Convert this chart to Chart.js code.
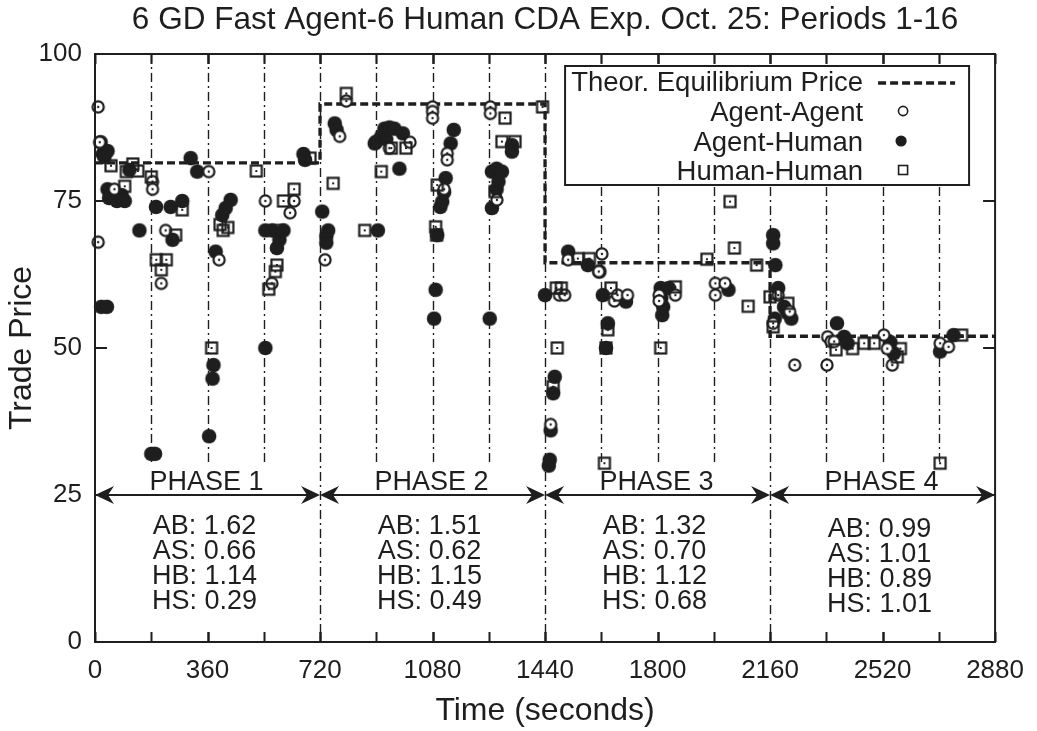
<!DOCTYPE html>
<html>
<head>
<meta charset="utf-8">
<title>CDA trade prices</title>
<script src="https://cdn.jsdelivr.net/npm/chart.js@4.4.1/dist/chart.umd.min.js"></script>
<style>
    html, body { margin: 0; padding: 0; background: #fff; }
    #wrap { width: 1037px; height: 731px; }
</style>
</head>
<body>
<div id="wrap"><canvas id="priceChart" width="1037" height="731"></canvas></div>
<script>
// trade prices, [time (s), price]
const agentAgent = [
    [10, 91], [15, 85], [10, 68], [62, 77], [184, 78.3], [184, 77], [212, 61], [226, 70], [364, 80], [397, 65],
    [545, 75], [566, 61], [624, 73], [637, 75],
    [736, 65], [783, 86], [804, 92], [942, 84], [1008, 85], [1080, 91], [1080, 90.2], [1080, 89.1], [1127, 83.1],
    [1127, 82], [1117, 77], [1265, 91], [1265, 89.9], [1286, 75.2],
    [1458, 37], [1486, 59], [1503, 59], [1514, 65], [1622, 66], [1612, 63], [1662, 58], [1672, 59], [1704, 59],
    [1805, 59], [1805, 58], [1857, 59], [1985, 61], [2016, 61], [1985, 59],
    [2170, 54.2], [2186, 59], [2223, 56.2], [2239, 47.1], [2342, 47.1], [2344, 51.9], [2355, 51.1], [2365, 51.1],
    [2524, 52.2], [2535, 49.9], [2551, 47.1], [2704, 50.8], [2731, 50.2],
];

const agentHuman = [
    [18, 85], [25, 83], [40, 83.5], [30, 82.5], [110, 80.3], [40, 77], [45, 75.5], [70, 75], [85, 76], [95, 75],
    [142, 70], [195, 74], [242, 74], [279, 75], [248, 68.4], [306, 82.3], [327, 80], [407, 72.6], [418, 73.8],
    [434, 75.2], [386, 66.4], [365, 35], [376, 44.8], [379, 47.1], [20, 57], [38, 57], [180, 32], [192, 32],
    [545, 50], [545, 70], [566, 70], [603, 70], [590, 68.4], [582, 67], [667, 83], [672, 82],
    [727, 73.2], [740, 69], [740, 67.9], [746, 70], [767, 88.2], [773, 87.1], [895, 84.8], [900, 85.1], [905, 70],
    [916, 86], [926, 87.3], [932, 85.5], [942, 87.5], [958, 87.3], [974, 80.5], [985, 86.5], [1085, 55], [1090, 59.9],
    [1095, 69.2], [1105, 74], [1111, 74.9], [1117, 76.5], [1122, 78.9], [1138, 84.8], [1148, 87.1], [1263, 55],
    [1270, 73.8], [1270, 80], [1285, 80.5], [1285, 77], [1291, 78.3], [1302, 80], [1334, 84.5], [1334, 83.4],
    [1440, 59], [1452, 30], [1455, 31], [1458, 36], [1466, 42.3], [1471, 45.1], [1514, 66.4], [1577, 64.1],
    [1614, 63], [1625, 59], [1635, 50], [1641, 54.2], [1699, 57.9], [1810, 60.2], [1812, 58.5], [1815, 55.6],
    [1818, 57], [1836, 60.2], [2027, 59.9],
    [2170, 69.2], [2170, 67.8], [2177, 64.1], [2175, 55], [2186, 60.2], [2205, 57], [2215, 56], [2228, 55],
    [2374, 54.2], [2397, 51.9], [2408, 50.8], [2545, 51], [2556, 49.1], [2704, 49.4], [2747, 52.2],
];

const humanHuman = [
    [51, 81], [100, 80], [121, 81.3], [137, 80.1], [180, 79.1], [95, 77.5], [196, 65], [228, 65], [212, 63.3],
    [258, 69.2], [279, 73.5], [373, 50], [400, 71], [410, 70], [425, 70.5], [516, 80.1], [556, 60], [577, 63],
    [582, 64.1], [587, 70], [603, 75], [637, 77], [688, 82.3],
    [762, 78], [804, 93.3], [863, 70], [916, 80], [948, 84], [995, 84], [1090, 70.6], [1093, 69.2], [1095, 77.7],
    [1280, 76.6], [1302, 85.1], [1312, 89.1], [1344, 85.1], [1432, 91],
    [1466, 43.4], [1476, 60.2], [1479, 50], [1492, 60.2], [1545, 65.2], [1582, 65.2], [1630, 30.4], [1635, 50],
    [1641, 53.1], [1651, 60.2], [1810, 50], [1857, 60.4], [1958, 65.1], [2032, 74.9], [2046, 67], [2090, 57.1],
    [2117, 64.1],
    [2160, 58.7], [2170, 53.6], [2178, 59.3], [2217, 57.6], [2371, 49.7], [2424, 49.9], [2461, 50.8], [2493, 50.8],
    [2567, 48.5], [2577, 49.9], [2704, 30.4], [2773, 52.2],
];

const eqTimes = [0, 720, 1440, 2160, 2880];
const eqPrices = [81.5, 91.5, 64.5, 52, 52];

const xLabelTicks = [0, 360, 720, 1080, 1440, 1800, 2160, 2520, 2880];
const periodBounds = [180, 360, 540, 720, 900, 1080, 1260, 1440, 1620, 1800, 1980, 2160, 2340, 2520, 2700];
const phaseBounds = [0, 720, 1440, 2160, 2880];
const periodLineFloor = 30;
const arrowLevel = 25;

const phaseNames = ['PHASE 1', 'PHASE 2', 'PHASE 3', 'PHASE 4'];
const phaseStats = [
    ['AB: 1.62', 'AS: 0.66', 'HB: 1.14', 'HS: 0.29'],
    ['AB: 1.51', 'AS: 0.62', 'HB: 1.15', 'HS: 0.49'],
    ['AB: 1.32', 'AS: 0.70', 'HB: 1.12', 'HS: 0.68'],
    ['AB: 0.99', 'AS: 1.01', 'HB: 0.89', 'HS: 1.01'],
];

const TITLE = '6 GD Fast Agent-6 Human CDA Exp. Oct. 25: Periods 1-16';
const INK = '#1e1e1e';
const FONT = "'Liberation Sans', Arial, Helvetica, sans-serif";

Chart.defaults.font.family = FONT;
Chart.defaults.color = INK;

function markerCanvas(kind) {
    const c = document.createElement('canvas');
    c.width = 18;
    c.height = 18;
    const g = c.getContext('2d');
    g.strokeStyle = INK;
    g.fillStyle = INK;
    g.lineWidth = 2.2;
    if (kind === 'open') {
        g.beginPath();
        g.arc(9, 9, 5.6, 0, Math.PI * 2);
        g.fillStyle = '#fff';
        g.fill();
        g.stroke();
        g.fillStyle = INK;
        g.beginPath();
        g.arc(9, 9, 1.2, 0, Math.PI * 2);
        g.fill();
    } else if (kind === 'filled') {
        g.beginPath();
        g.arc(9, 9, 7.3, 0, Math.PI * 2);
        g.fill();
    } else {
        g.strokeRect(3.5, 3.5, 11, 11);
        g.fillRect(8, 8, 2, 2);
    }
    return c;
}

const toPoints = (pairs) => pairs.map(([x, y]) => ({ x, y }));

function arrowHead(ctx, tipX, y, dir) {
    ctx.beginPath();
    ctx.moveTo(tipX, y);
    ctx.lineTo(tipX - dir * 19, y - 9);
    ctx.lineTo(tipX - dir * 13, y);
    ctx.lineTo(tipX - dir * 19, y + 9);
    ctx.closePath();
    ctx.fill();
}

const decorPlugin = {
    id: 'decor',
    beforeDatasetsDraw(chart) {
        const { ctx, scales: { x, y } } = chart;
        ctx.save();
        ctx.strokeStyle = INK;
        ctx.lineWidth = 1.4;
        ctx.setLineDash([9, 4, 2, 4]);
        periodBounds.forEach((t) => {
            const px = Math.round(x.getPixelForValue(t)) + 0.5;
            const floor = phaseBounds.includes(t) ? 0 : periodLineFloor;
            ctx.beginPath();
            ctx.moveTo(px, y.getPixelForValue(100));
            ctx.lineTo(px, y.getPixelForValue(floor));
            ctx.stroke();
        });
        ctx.restore();
    },
    afterDatasetsDraw(chart) {
        const { ctx, scales: { x, y } } = chart;
        const ay = y.getPixelForValue(arrowLevel);
        ctx.save();
        ctx.fillStyle = INK;
        ctx.strokeStyle = INK;
        ctx.lineWidth = 2;
        ctx.font = `27px ${FONT}`;
        ctx.textAlign = 'center';
        ctx.textBaseline = 'alphabetic';
        phaseNames.forEach((name, i) => {
            const x0 = x.getPixelForValue(phaseBounds[i]);
            const x1 = x.getPixelForValue(phaseBounds[i + 1]);
            ctx.beginPath();
            ctx.moveTo(x0 + 10, ay);
            ctx.lineTo(x1 - 10, ay);
            ctx.stroke();
            arrowHead(ctx, x0, ay, -1);
            arrowHead(ctx, x1, ay, 1);
            const cx = (x0 + x1) / 2;
            ctx.fillText(name, cx - 1, ay - 5);
            const drop = i === 3 ? 42 : 39;
            phaseStats[i].forEach((line, k) => {
                ctx.fillText(line, cx - 3, ay + drop + k * 25);
            });
        });
        ctx.restore();
    },
    afterDraw(chart) {
        const { ctx, chartArea: a, scales: { x, y } } = chart;
        ctx.save();
        ctx.strokeStyle = INK;
        ctx.fillStyle = INK;
        ctx.lineWidth = 2;
        ctx.setLineDash([]);

        // title, centred over the plot frame
        ctx.font = `31.5px ${FONT}`;
        ctx.textAlign = 'center';
        ctx.textBaseline = 'middle';
        ctx.fillText(TITLE, (a.left + a.right) / 2, 20);

        // inward ticks, mirrored
        [...xLabelTicks, ...periodBounds].forEach((t) => {
            const px = Math.round(x.getPixelForValue(t)) + 0.5;
            ctx.beginPath();
            ctx.moveTo(px, a.bottom);
            ctx.lineTo(px, a.bottom - 10);
            ctx.moveTo(px, a.top);
            ctx.lineTo(px, a.top + 10);
            ctx.stroke();
        });
        y.ticks.forEach((tk) => {
            const py = Math.round(y.getPixelForValue(tk.value));
            ctx.beginPath();
            ctx.moveTo(a.left, py);
            ctx.lineTo(a.left + 12, py);
            ctx.moveTo(a.right, py);
            ctx.lineTo(a.right - 12, py);
            ctx.stroke();
        });
        ctx.strokeRect(a.left, a.top, a.right - a.left, a.bottom - a.top);

        // key box
        const box = { left: a.right - 430, right: a.right - 26, top: a.top + 12, bottom: a.top + 131 };
        ctx.fillStyle = '#fff';
        ctx.fillRect(box.left, box.top, box.right - box.left, box.bottom - box.top);
        ctx.strokeRect(box.left, box.top, box.right - box.left, box.bottom - box.top);
        ctx.fillStyle = INK;
        ctx.font = `27.5px ${FONT}`;
        ctx.textAlign = 'right';
        ctx.textBaseline = 'alphabetic';
        const rows = [a.top + 27, a.top + 57, a.top + 87, a.top + 116];
        const textRight = box.right - 106;
        const mx = box.right - 66;
        ctx.fillText('Theor. Equilibrium Price', textRight, rows[0] + 10);
        ctx.fillText('Agent-Agent', textRight, rows[1] + 10);
        ctx.fillText('Agent-Human', textRight, rows[2] + 10);
        ctx.fillText('Human-Human', textRight, rows[3] + 10);

        ctx.lineWidth = 3.3;
        ctx.setLineDash([8, 4]);
        ctx.beginPath();
        ctx.moveTo(box.right - 91, rows[0] + 2);
        ctx.lineTo(box.right - 14, rows[0] + 2);
        ctx.stroke();
        ctx.setLineDash([]);

        ctx.lineWidth = 1.6;
        ctx.beginPath();
        ctx.arc(mx, rows[1], 4.6, 0, Math.PI * 2);
        ctx.stroke();
        ctx.beginPath();
        ctx.arc(mx - 2, rows[2], 5.6, 0, Math.PI * 2);
        ctx.fill();
        ctx.strokeRect(mx - 4.5, rows[3] - 4.5, 9, 9);
        ctx.restore();
    },
};

new Chart(document.getElementById('priceChart'), {
    type: 'scatter',
    data: {
        datasets: [
            {
                label: 'Human-Human',
                data: toPoints(humanHuman),
                pointStyle: markerCanvas('square'),
                pointRadius: 7,
                order: 0,
                clip: false,
            },
            {
                label: 'Agent-Agent',
                data: toPoints(agentAgent),
                pointStyle: markerCanvas('open'),
                pointRadius: 7,
                order: 1,
                clip: false,
            },
            {
                label: 'Agent-Human',
                data: toPoints(agentHuman),
                pointStyle: markerCanvas('filled'),
                pointRadius: 7,
                order: 2,
                clip: false,
            },
            {
                type: 'line',
                label: 'Theor. Equilibrium Price',
                data: eqTimes.map((t, i) => ({ x: t, y: eqPrices[i] })),
                stepped: 'before',
                borderColor: INK,
                borderWidth: 3.3,
                borderDash: [8, 4],
                pointRadius: 0,
                fill: false,
                order: 3,
                clip: false,
            },
        ],
    },
    options: {
        responsive: false,
        animation: false,
        events: [],
        layout: { padding: { left: 0, right: 35, top: 54, bottom: 0 } },
        plugins: {
            legend: { display: false },
            tooltip: { enabled: false },
            title: { display: false },
        },
        scales: {
            x: {
                type: 'linear',
                min: 0,
                max: 2880,
                afterBuildTicks: (s) => {
                    s.ticks = xLabelTicks.map((v) => ({ value: v }));
                },
                ticks: {
                    callback: (v) => String(v),
                    font: { size: 26 },
                    color: INK,
                    padding: 13,
                    maxRotation: 0,
                    autoSkip: false,
                },
                grid: { display: false, drawTicks: false },
                border: { display: false },
                title: {
                    display: true,
                    text: 'Time (seconds)',
                    color: INK,
                    font: { size: 32 },
                    padding: { top: 0, bottom: 1 },
                },
                afterFit: (s) => {
                    s.height = 89;
                },
            },
            y: {
                min: 0,
                max: 100,
                ticks: {
                    stepSize: 25,
                    callback: (v) => String(v),
                    font: { size: 26 },
                    color: INK,
                    padding: 13,
                },
                grid: { display: false, drawTicks: false },
                border: { display: false },
                title: {
                    display: true,
                    text: 'Trade Price',
                    color: INK,
                    font: { size: 32 },
                    padding: { top: 3, bottom: 0 },
                },
                afterFit: (s) => {
                    s.width = 95;
                },
            },
        },
    },
    plugins: [decorPlugin],
});
</script>
</body>
</html>
